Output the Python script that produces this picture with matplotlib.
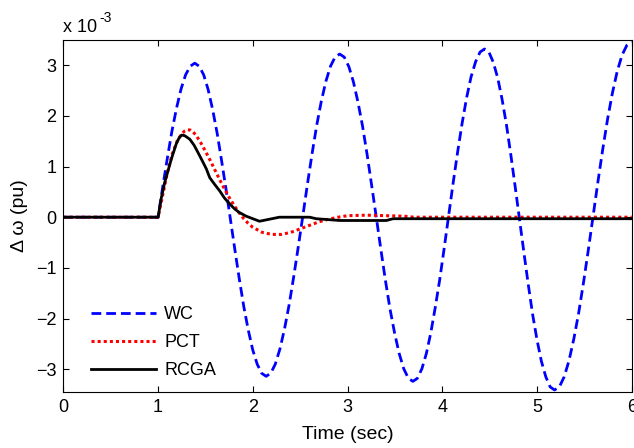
import matplotlib
matplotlib.use('Agg')
import matplotlib.pyplot as plt

plt.rcParams['font.family'] = ['Liberation Sans', 'DejaVu Sans']

# values in units of 1e-3 pu
t_wc = [0.0, 1.0, 1.048, 1.097, 1.145, 1.194, 1.242, 1.29, 1.339,
        1.387, 1.434, 1.481, 1.528, 1.575, 1.622, 1.669, 1.717, 1.764, 1.811, 1.858, 1.905, 1.952, 1.999, 2.046, 2.093,
        2.14, 2.189, 2.237, 2.286, 2.334, 2.383, 2.431, 2.48, 2.529, 2.577, 2.626, 2.674, 2.723, 2.771, 2.82, 2.868,
        2.917, 2.965, 3.014, 3.062, 3.110, 3.159, 3.207, 3.255, 3.304, 3.352, 3.400, 3.448, 3.497, 3.545, 3.593, 3.642,
        3.69, 3.737, 3.785, 3.832, 3.879, 3.926, 3.974, 4.021, 4.068, 4.115, 4.163, 4.21, 4.257, 4.304, 4.352, 4.399,
        4.446, 4.492, 4.538, 4.585, 4.631, 4.677, 4.723, 4.769, 4.816, 4.862, 4.908, 4.954, 5.0, 5.046, 5.093, 5.139,
        5.185, 5.236, 5.287, 5.338, 5.389, 5.44, 5.491, 5.542, 5.593, 5.643, 5.694, 5.745, 5.796, 5.847, 5.898, 5.949, 6.0]
wc = [0.0, 0.0, 0.59, 1.16, 1.69, 2.15, 2.53, 2.81, 2.98,
      3.04, 2.98, 2.81, 2.52, 2.13, 1.67, 1.13, 0.55, -0.05, -0.65, -1.23, -1.77, -2.23, -2.62, -2.90, -3.08,
      -3.14, -3.08, -2.90, -2.60, -2.21, -1.73, -1.18, -0.58, 0.04, 0.66, 1.26, 1.81, 2.29, 2.68, 2.98, 3.16,
      3.22, 3.16, 2.97, 2.67, 2.27, 1.79, 1.23, 0.62, -0.01, -0.64, -1.25, -1.81, -2.29, -2.69, -2.99, -3.18,
      -3.24, -3.18, -2.99, -2.69, -2.28, -1.78, -1.22, -0.60, 0.04, 0.68, 1.30, 1.86, 2.36, 2.77, 3.07, 3.26,
      3.32, 3.26, 3.06, 2.75, 2.33, 1.83, 1.24, 0.61, -0.05, -0.70, -1.33, -1.92, -2.42, -2.84, -3.15, -3.35,
      -3.41, -3.35, -3.15, -2.83, -2.40, -1.89, -1.29, -0.645, 0.03, 0.695, 1.34, 1.935, 2.45, 2.88, 3.20, 3.395, 3.46]

t_pct = [0.0, 1.0, 1.05, 1.1, 1.15, 1.2, 1.25, 1.28, 1.31, 1.34, 1.37, 1.4, 1.45, 1.5, 1.55, 1.6, 1.65, 1.7, 1.75,
         1.8, 1.85, 1.9, 1.95, 2.0, 2.1, 2.2, 2.3, 2.4, 2.5, 2.6, 2.7, 2.8, 2.9, 3.0, 3.2, 3.4, 3.6, 3.7, 6.0]
pct = [0.0, 0.0, 0.45, 0.9, 1.25, 1.5, 1.65, 1.70, 1.725, 1.72, 1.68, 1.62, 1.47, 1.3, 1.12, 0.93, 0.74, 0.56, 0.39,
       0.24, 0.10, -0.02, -0.12, -0.2, -0.3, -0.34, -0.34, -0.3, -0.23, -0.16, -0.09, -0.04, 0.0, 0.03, 0.04, 0.03,
       0.02, 0.0, 0.0]

t_rcga = [0.0, 1.0, 1.03, 1.07, 1.14, 1.19, 1.22, 1.247, 1.28, 1.334, 1.38, 1.42, 1.47, 1.51, 1.545, 1.6, 1.65,
          1.7, 1.756, 1.81, 1.86, 1.93, 2.0, 2.07, 2.28, 2.6, 2.67, 2.92, 3.41, 3.48, 6.0]
rcga = [0.0, 0.0, 0.35, 0.69, 1.15, 1.44, 1.56, 1.62, 1.61, 1.54, 1.42, 1.28, 1.1, 0.95, 0.78, 0.64, 0.52,
        0.38, 0.26, 0.16, 0.09, 0.02, -0.03, -0.08, 0.0, 0.0, -0.03, -0.065, -0.065, -0.03, -0.03]

fig = plt.figure(figsize=(6.34, 4.48), dpi=100)
ax = fig.add_axes([0.100, 0.125, 0.8964, 0.786])

ax.plot(t_wc, wc, color='#0000ff', lw=2, dashes=(3.5, 1.8), label='WC')
ax.plot(t_pct, pct, color='#ff0000', lw=2.2, linestyle=(0, (1, 1)), label='PCT')
ax.plot(t_rcga, rcga, color='black', lw=2, label='RCGA')

ax.set_xlim(0, 6)
ax.set_ylim(-3.45, 3.5)
ax.set_xticks(range(0, 7))
ax.set_yticks(range(-3, 4))
ax.tick_params(direction='in', top=True, right=True, labelsize=13, length=4, pad=5)
ax.set_xlabel('Time (sec)', fontsize=14)
ax.set_ylabel('\u0394 \u03c9 (pu)', fontsize=14)
ax.xaxis.set_label_coords(0.5, -0.097)
ax.yaxis.set_label_coords(-0.063, 0.5)
ax.text(0, 1.023, 'x 10', transform=ax.transAxes, fontsize=13, va='baseline')
ax.text(0.063, 1.05, '-3', transform=ax.transAxes, fontsize=10, va='baseline')

ax.legend(loc='upper left', frameon=False, fontsize=13, handlelength=3.6,
          handletextpad=0.45, labelspacing=0.6, bbox_to_anchor=(0.02, 0.289))

fig.savefig('out.png', dpi=100)
